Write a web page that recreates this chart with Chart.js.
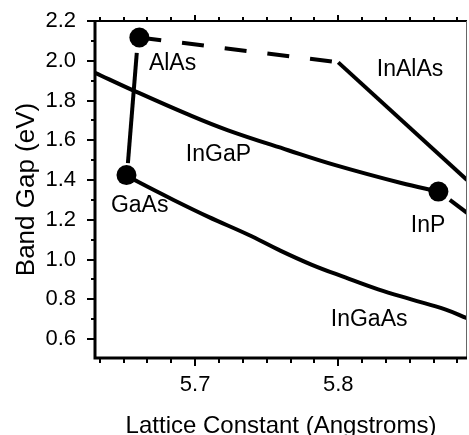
<!DOCTYPE html>
<html>
<head>
<meta charset="utf-8">
<script src="https://cdn.jsdelivr.net/npm/chart.js@4.4.0/dist/chart.umd.min.js"></script>
<style>
html,body{margin:0;padding:0;background:#fff;}
#wrap{width:469px;height:435px;}
</style>
</head>
<body>
<div id="wrap"><canvas id="bandChart" width="469" height="435"></canvas></div>
<script>
// tick labels
const xTickLabels = [5.7, 5.8];
const yTickLabels = [0.6, 0.8, 1.0, 1.2, 1.4, 1.6, 1.8, 2.0, 2.2];

// binary compounds (filled dots)
const binaryNames = ["GaAs", "AlAs", "InP"];
const binaryLattice = [5.652, 5.661, 5.870];
const binaryGap = [1.425, 2.117, 1.342];

// ternary curves
const ingapLattice = [5.63, 5.657, 5.695, 5.723, 5.765, 5.798, 5.844, 5.870];
const ingapGap = [1.94, 1.85, 1.73, 1.65, 1.55, 1.475, 1.385, 1.342];

const ingaasLattice = [5.652, 5.6604, 5.6849, 5.7093, 5.7372, 5.7581, 5.7812, 5.8049, 5.8279, 5.851, 5.8747, 5.89];
const ingaasGap = [1.425, 1.39, 1.30, 1.215, 1.125, 1.05, 0.975, 0.91, 0.85, 0.80, 0.75, 0.705];

const algaasLattice = [5.653, 5.6592];
const algaasGap = [1.485, 2.04];

const inalasDashLattice = [5.661, 5.80];
const inalasDashGap = [2.117, 1.992];
const inalasLattice = [5.80, 5.89];
const inalasGap = [1.992, 1.40];

const inpTailLattice = [5.878, 5.89];
const inpTailGap = [1.30, 1.235];

// text labels on the plot
const labelNames = ["AlAs", "GaAs", "InGaP", "InP", "InAlAs", "InGaAs"];
const labelLattice = [5.6842, 5.6612, 5.7163, 5.8628, 5.8502, 5.8216];
const labelGap = [1.985, 1.27, 1.53, 1.17, 1.955, 0.70];

function pts(xs, ys){
  return xs.map((v, i) => ({x: v, y: ys[i]}));
}

function lineSet(xs, ys, dash, curved){
  return {
    data: pts(xs, ys),
    showLine: true,
    borderColor: "#000",
    borderWidth: 4,
    borderDash: dash || [],
    pointRadius: 0,
    tension: curved ? 0.4 : 0
  };
}

const FONT = "'Liberation Sans', Arial, sans-serif";

const framePlugin = {
  id: "framePlugin",
  afterDatasetsDraw(chart){
    const ctx = chart.ctx;
    const a = chart.chartArea;
    const x = chart.scales.x;
    const y = chart.scales.y;
    ctx.save();

    // labels
    ctx.fillStyle = "#000";
    ctx.font = "23px " + FONT;
    ctx.textAlign = "center";
    ctx.textBaseline = "middle";
    labelNames.forEach((t, i) => {
      ctx.fillText(t, x.getPixelForValue(labelLattice[i]), y.getPixelForValue(labelGap[i]));
    });

    // frame
    ctx.strokeStyle = "#000";
    ctx.lineWidth = 2;
    ctx.beginPath();
    ctx.moveTo(a.left, a.top);
    ctx.lineTo(a.right, a.top);
    ctx.stroke();
    ctx.strokeStyle = "#666";
    ctx.lineWidth = 1;
    ctx.beginPath();
    ctx.moveTo(a.right - 0.5, a.top);
    ctx.lineTo(a.right - 0.5, a.bottom);
    ctx.stroke();
    ctx.strokeStyle = "#000";
    ctx.lineWidth = 3;
    ctx.beginPath();
    ctx.moveTo(a.left, a.top - 1);
    ctx.lineTo(a.left, a.bottom);
    ctx.lineTo(a.right, a.bottom);
    ctx.stroke();

    // ticks
    ctx.lineWidth = 2;
    ctx.beginPath();
    for (let k = Math.ceil(x.min * 60 - 1e-6); k <= Math.floor(x.max * 60 + 1e-6); k++){
      const px = Math.round(x.getPixelForValue(k / 60));
      const major = k % 6 === 0;
      ctx.moveTo(px, a.bottom);
      ctx.lineTo(px, a.bottom + (major ? 8 : 5));
      ctx.moveTo(px, a.top);
      ctx.lineTo(px, a.top - (major ? 6 : 4));
    }
    for (let k = Math.ceil(y.min * 10 - 1e-6); k <= Math.floor(y.max * 10 + 1e-6); k++){
      const py = Math.round(y.getPixelForValue(k / 10));
      const major = k % 2 === 0;
      ctx.moveTo(a.left, py);
      ctx.lineTo(a.left - (major ? 8 : 4), py);
    }
    ctx.stroke();
    ctx.restore();
  }
};

new Chart(document.getElementById("bandChart"), {
  type: "scatter",
  data: {
    datasets: [
      {
        data: pts(binaryLattice, binaryGap),
        pointRadius: 10,
        pointBackgroundColor: "#000",
        pointBorderWidth: 0,
        showLine: false
      },
      lineSet(algaasLattice, algaasGap),
      lineSet(inalasDashLattice, inalasDashGap, [22, 21]),
      lineSet(inalasLattice, inalasGap),
      lineSet(ingapLattice, ingapGap, null, true),
      lineSet(ingaasLattice, ingaasGap, null, true),
      lineSet(inpTailLattice, inpTailGap)
    ]
  },
  options: {
    responsive: false,
    animation: false,
    devicePixelRatio: 1,
    layout: { autoPadding: false, padding: { top: 21, right: 2, left: 0, bottom: 0 } },
    plugins: {
      legend: { display: false },
      tooltip: { enabled: false }
    },
    scales: {
      x: {
        type: "linear",
        min: 5.63,
        max: 5.89,
        grid: { display: false },
        border: { display: false },
        afterBuildTicks: s => { s.ticks = xTickLabels.map(v => ({value: v})); },
        afterFit: s => { s.height = 77; s.paddingLeft = 0; s.paddingRight = 0; },
        ticks: {
          color: "#000",
          font: { family: FONT, size: 22 },
          padding: 6,
          maxRotation: 0,
          callback: v => v.toFixed(1)
        },
        title: {
          display: true,
          text: "Lattice Constant (Angstroms)",
          color: "#000",
          font: { family: FONT, size: 24 },
          padding: { top: 0, bottom: -6 }
        }
      },
      y: {
        type: "linear",
        min: 0.505,
        max: 2.2,
        grid: { display: false },
        border: { display: false },
        afterBuildTicks: s => { s.ticks = yTickLabels.map(v => ({value: v})); },
        afterFit: s => { s.width = 95; s.paddingTop = 0; s.paddingBottom = 0; },
        ticks: {
          color: "#000",
          font: { family: FONT, size: 22 },
          padding: 11,
          callback: v => v.toFixed(1)
        },
        title: {
          display: true,
          text: "Band Gap (eV)",
          color: "#000",
          font: { family: FONT, size: 26 },
          padding: { top: 11, bottom: 0 }
        }
      }
    }
  },
  plugins: [framePlugin]
});
</script>
</body>
</html>
